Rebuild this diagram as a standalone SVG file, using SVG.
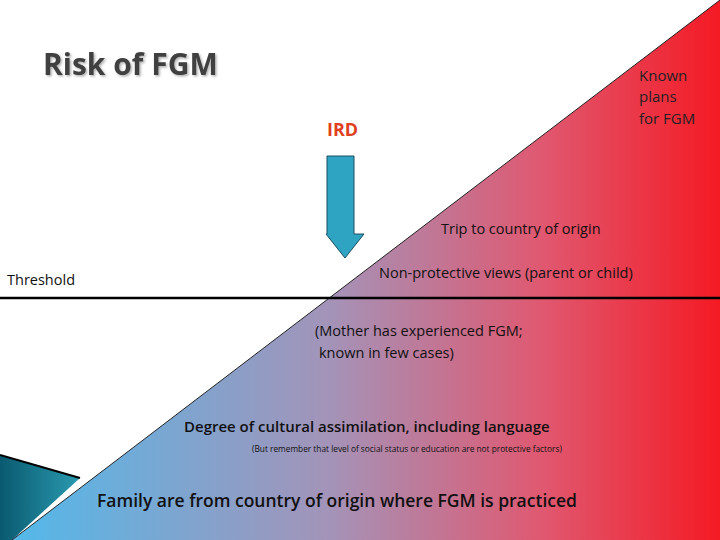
<svg xmlns="http://www.w3.org/2000/svg" width="720" height="540" viewBox="0 0 720 540">
<defs>
<linearGradient id="g" x1="0" y1="0" x2="1" y2="0">
<stop offset="0" stop-color="#52b9ea"/>
<stop offset="0.45" stop-color="#a493b8"/>
<stop offset="0.75" stop-color="#e05870"/>
<stop offset="1" stop-color="#f41a24"/>
</linearGradient>
<linearGradient id="t" x1="0" y1="0" x2="1" y2="0">
<stop offset="0" stop-color="#0a5a70"/>
<stop offset="1" stop-color="#2a9ab0"/>
</linearGradient>
<filter id="sh"><feDropShadow dx="1.5" dy="1.5" stdDeviation="1" flood-color="#000" flood-opacity="0.3"/></filter>
</defs>
<style>
text{font-family:"Open Sans","DejaVu Sans",sans-serif;fill:#111}
.b{font-weight:bold}
</style>
<rect width="720" height="540" fill="#fff"/>
<g id="decor">
<polygon points="0,455 80,478 12,540 0,540" fill="url(#t)"/>
<line x1="0" y1="455" x2="80" y2="478" stroke="#000" stroke-width="2"/>
</g>
<g id="triangle">
<polygon points="12,540 720,0 720,540" fill="url(#g)"/>
<line x1="12" y1="540" x2="720" y2="0" stroke="#222" stroke-width="1"/>
</g>
<g id="connectors">
<line x1="0" y1="298" x2="720" y2="298" stroke="#000" stroke-width="2.5"/>
</g>
<g id="arrow">
<polygon points="327,156 354,156 354,234 364,234 345,258 326,234 327,234" fill="#2fa3c2" stroke="#1a4f60" stroke-width="1"/>
</g>
<g id="title"><text x="43" y="75" font-size="30" class="b" style="fill:#404040" filter="url(#sh)">Risk of FGM</text></g>
<g id="ird"><text x="327" y="136" font-size="18" class="b" style="fill:#e0401c">IRD</text></g>
<g id="known"><text font-size="15" style="fill:#222"><tspan x="639" y="81">Known</tspan><tspan x="639" y="102">plans</tspan><tspan x="639" y="124">for FGM</tspan></text></g>
<g id="trip"><text x="441" y="234" font-size="14.5">Trip to country of origin</text></g>
<g id="threshold"><text x="7" y="285" font-size="14.5">Threshold</text></g>
<g id="views"><text x="379" y="278" font-size="14.5">Non-protective views (parent or child)</text></g>
<g id="mother"><text font-size="14.5"><tspan x="315" y="336">(Mother has experienced FGM;</tspan><tspan x="319" y="358">known in few cases)</tspan></text></g>
<g id="degree"><text x="184" y="432" font-size="15" class="b" style="font-weight:600">Degree of cultural assimilation, including language</text></g>
<g id="note"><text x="252" y="452" font-size="8.3">(But remember that level of social status or education are not protective factors)</text></g>
<g id="family"><text x="97" y="507" font-size="17.5" style="font-weight:600">Family are from country of origin where FGM is practiced</text></g>
</svg>
